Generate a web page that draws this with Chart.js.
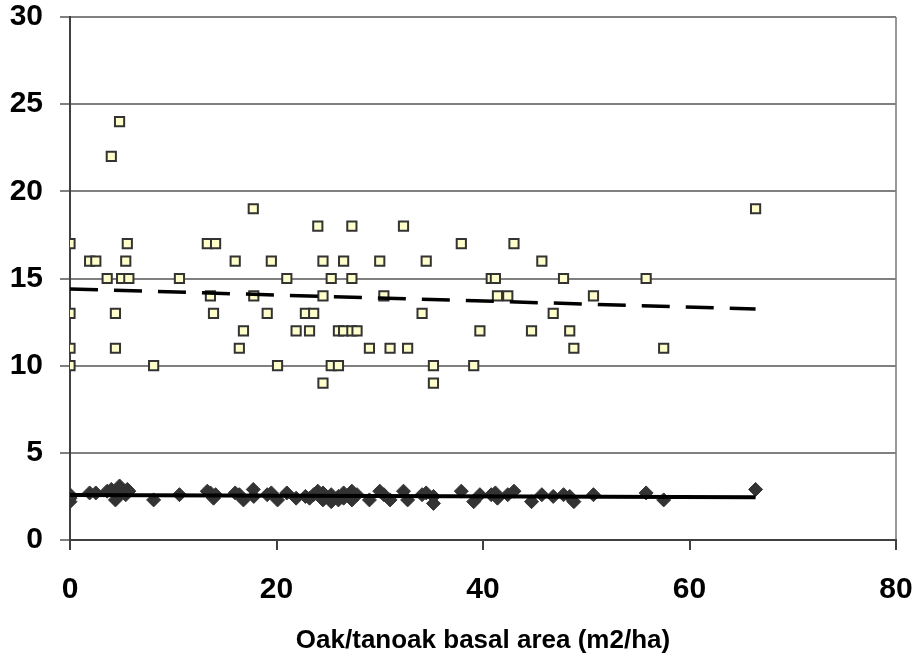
<!DOCTYPE html>
<html>
<head>
<meta charset="utf-8">
<title>Oak/tanoak basal area</title>
<script src="https://cdn.jsdelivr.net/npm/chart.js@4/dist/chart.umd.min.js"></script>
<style>
  html, body { margin: 0; padding: 0; background: #ffffff; }
  #wrap { width: 921px; height: 658px; }
</style>
</head>
<body>
<div id="wrap"><canvas id="chart" width="921" height="658"></canvas></div>
<script>
// Basal area of each plot (x), shared by both series
const basalArea = [
  0, 0, 0, 0, 1.9, 2.5, 3.6, 4.0, 4.4, 4.4,
  4.8, 5.0, 5.4, 5.55, 5.7, 8.1, 10.6, 13.3, 13.6, 13.9,
  14.1, 16.0, 16.4, 16.8, 17.75, 17.8, 19.1, 19.5, 20.1, 21.0,
  21.9, 22.8, 23.2, 23.6, 24.0, 24.5, 24.5, 24.5, 25.3, 25.3,
  26.0, 26.0, 26.5, 26.5, 27.3, 27.3, 27.3, 27.8, 29.0, 30.0,
  30.4, 31.0, 32.3, 32.7, 34.1, 34.5, 35.2, 35.2, 37.9, 39.1,
  39.7, 40.8, 41.2, 41.4, 42.4, 43.0, 44.7, 45.7, 46.8, 47.8,
  48.4, 48.8, 50.7, 55.8, 57.5, 66.4
];

// Upper series (open squares)
const squareValues = [
  17, 13, 11, 10, 16, 16, 15, 22, 13, 11,
  24, 15, 16, 17, 15, 10, 15, 17, 14, 13,
  17, 16, 11, 12, 19, 14, 13, 16, 10, 15,
  12, 13, 12, 13, 18, 16, 14, 9, 15, 10,
  12, 10, 16, 12, 18, 15, 12, 12, 11, 16,
  14, 11, 18, 11, 13, 16, 10, 9, 17, 10,
  12, 15, 15, 14, 14, 17, 12, 16, 13, 15,
  12, 11, 14, 15, 11, 19
];

// Lower series (dark diamonds)
const diamondValues = [
  2.6, 2.2, 2.4, 2.5, 2.7, 2.7, 2.8, 2.9, 2.3, 2.8,
  3.1, 2.7, 2.6, 2.9, 2.8, 2.3, 2.6, 2.8, 2.7, 2.4,
  2.6, 2.7, 2.6, 2.3, 2.9, 2.5, 2.6, 2.7, 2.3, 2.7,
  2.4, 2.5, 2.4, 2.6, 2.8, 2.5, 2.3, 2.7, 2.2, 2.6,
  2.3, 2.5, 2.7, 2.4, 2.8, 2.5, 2.3, 2.6, 2.3, 2.8,
  2.6, 2.3, 2.8, 2.3, 2.6, 2.7, 2.1, 2.5, 2.8, 2.2,
  2.6, 2.6, 2.7, 2.4, 2.6, 2.8, 2.2, 2.6, 2.5, 2.6,
  2.5, 2.2, 2.6, 2.7, 2.3, 2.9
];

// Linear trend lines, end points
const trendX = [0, 66.4];
const squareTrend = [14.4, 13.25];
const diamondTrend = [2.58, 2.45];

const xTicks = [0, 20, 40, 60, 80];
const X_TITLE = "Oak/tanoak basal area (m2/ha)";

const FONT_FAMILY = "'Liberation Sans', Arial, Helvetica, sans-serif";
const GRID_GRAY = "#808080";
const AXIS_DARK = "#404040";

// pair x values with y values for the scatter datasets
function toPoints(xs, ys) {
  return xs.map((x, i) => ({ x: x, y: ys[i] }));
}

const ctx = document.getElementById("chart").getContext("2d");

new Chart(ctx, {
  type: "scatter",
  data: {
    datasets: [
      // trend lines first so they are drawn on top of the markers
      {
        label: "Square trend",
        type: "line",
        data: toPoints(trendX, squareTrend),
        borderColor: "#000000",
        borderWidth: 3.5,
        borderDash: [28, 16],
        borderCapStyle: "butt",
        pointRadius: 0,
        fill: false
      },
      {
        label: "Diamond trend",
        type: "line",
        data: toPoints(trendX, diamondTrend),
        borderColor: "#000000",
        borderWidth: 4,
        pointRadius: 0,
        fill: false
      },
      {
        label: "Squares",
        data: toPoints(basalArea, squareValues),
        pointStyle: "rect",
        pointRadius: 6.5,
        pointBackgroundColor: "#ffffcc",
        pointBorderColor: "#333333",
        pointBorderWidth: 2
      },
      {
        label: "Diamonds",
        data: toPoints(basalArea, diamondValues),
        pointStyle: "rectRot",
        pointRadius: 7,
        pointBackgroundColor: "#333333",
        pointBorderColor: "#333333",
        pointBorderWidth: 1
      }
    ]
  },
  options: {
    responsive: false,
    animation: false,
    events: [],
    layout: { padding: 0 },
    plugins: {
      legend: { display: false },
      tooltip: { enabled: false }
    },
    scales: {
      x: {
        type: "linear",
        min: 0,
        max: 80,
        afterBuildTicks: (scale) => { scale.ticks = xTicks.map(v => ({ value: v })); },
        // fixed box: plot bottom at 540, right edge at 896
        afterFit: (scale) => {
          scale.height = 118;
          scale.paddingRight = 25;
          scale.paddingLeft = 0;
        },
        // only the right edge of the plot gets a vertical line
        grid: {
          color: (c) => (c.tick && c.tick.value === 80 ? "#999999" : "rgba(0,0,0,0)"),
          lineWidth: 2,
          tickColor: AXIS_DARK,
          tickLength: 10,
          drawTicks: true
        },
        border: { color: AXIS_DARK, width: 2 },
        ticks: {
          color: "#000000",
          padding: 22,
          maxRotation: 0,
          font: { family: FONT_FAMILY, size: 30, weight: "bold" }
        },
        title: {
          display: true,
          text: X_TITLE,
          color: "#000000",
          padding: { top: 0, bottom: 2 },
          font: { family: FONT_FAMILY, size: 26, weight: "bold" }
        }
      },
      y: {
        type: "linear",
        min: 0,
        max: 30,
        // fixed box: plot left at 70, top at 17
        afterFit: (scale) => {
          scale.width = 70;
          scale.paddingTop = 17;
          scale.paddingBottom = 0;
        },
        ticks: {
          stepSize: 5,
          color: "#000000",
          padding: 17,
          font: { family: FONT_FAMILY, size: 30, weight: "bold" }
        },
        grid: {
          color: GRID_GRAY,
          lineWidth: 2,
          tickColor: GRID_GRAY,
          tickLength: 10
        },
        border: { color: AXIS_DARK, width: 2 }
      }
    }
  }
});
</script>
</body>
</html>
